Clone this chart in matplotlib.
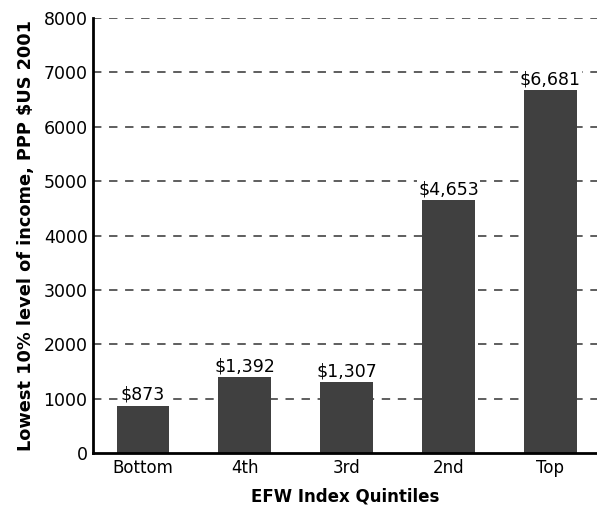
import matplotlib.pyplot as plt

quintiles = ['Bottom', '4th', '3rd', '2nd', 'Top']
income = [873, 1392, 1307, 4653, 6681]
labels = ['$873', '$1,392', '$1,307', '$4,653', '$6,681']
yticks = [0, 1000, 2000, 3000, 4000, 5000, 6000, 7000, 8000]

plt.rcParams['font.family'] = ['DejaVu Sans']

fig, ax = plt.subplots(figsize=(5.97, 5.12), dpi=100)
fig.subplots_adjust(left=0.156, right=1.0, top=0.965, bottom=0.115)

x = range(len(quintiles))
ax.bar(x, income, width=0.52, color='#404040', zorder=2)

# dashed horizontal guides
for t in yticks[1:]:
    ax.axhline(t, color='#333333', linestyle=(0, (5.5, 5)), linewidth=1.1, zorder=1)

for xi, v, s in zip(x, income, labels):
    ax.text(xi, v + 30, s, ha='center', va='bottom', fontsize=12.5,
            bbox=dict(facecolor='white', edgecolor='none', pad=1), zorder=3)

ax.set_xlim(-0.49, 4.46)
ax.set_ylim(0, 8000)
ax.set_xticks(list(x))
ax.set_xticklabels(quintiles, fontsize=12)
ax.set_yticks(yticks)
ax.set_yticklabels([str(t) for t in yticks], fontsize=12.5)
ax.tick_params(length=0, pad=4)

for side in ['top', 'right']:
    ax.spines[side].set_visible(False)
ax.spines['left'].set_linewidth(2)
ax.spines['bottom'].set_linewidth(2)

ax.set_xlabel('EFW Index Quintiles', fontsize=12, fontweight='bold', labelpad=8)
ax.set_ylabel('Lowest 10% level of income, PPP $US 2001', fontsize=12.8,
              fontweight='bold', labelpad=6)

fig.savefig('out.png', dpi=100)
